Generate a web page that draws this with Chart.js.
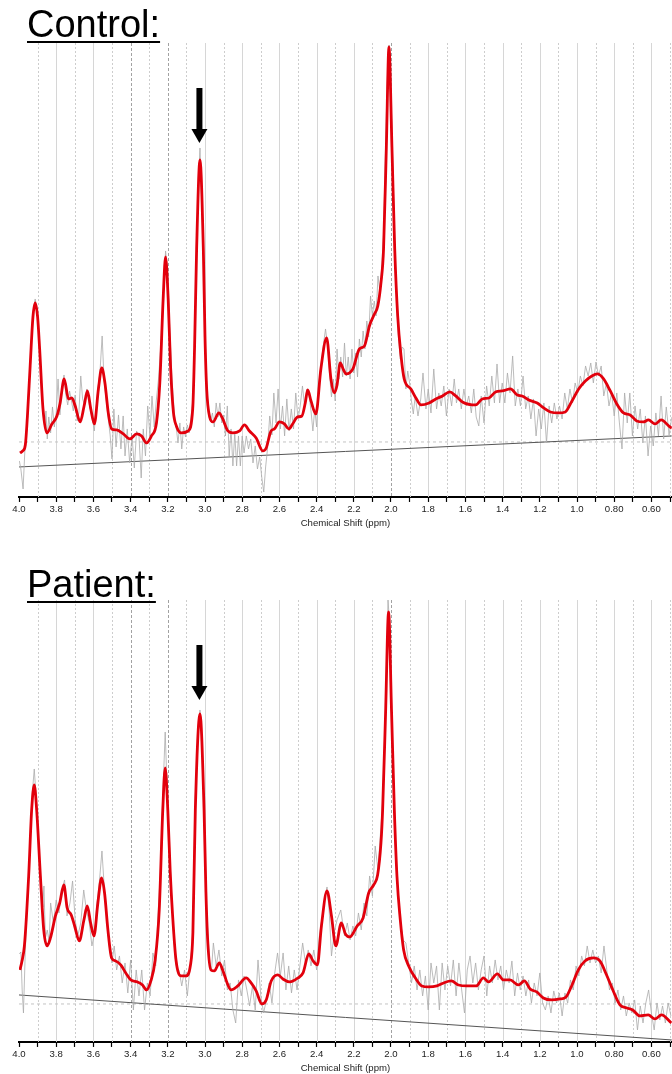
<!DOCTYPE html>
<html>
<head>
<meta charset="utf-8">
<script src="https://cdn.jsdelivr.net/npm/chart.js@4.4.0/dist/chart.umd.min.js"></script>
<style>
  html, body { margin: 0; padding: 0; background: #fff; overflow: hidden; }
  body { width: 672px; height: 1074px; position: relative; font-family: "Liberation Sans", Arial, sans-serif; }
  canvas { position: absolute; left: 0; }
  .panel-title { position: absolute; left: 27px; font-size: 38px; line-height: 38px; color: #000;
    text-decoration: underline; text-decoration-thickness: 2px; text-underline-offset: 4px; z-index: 2; }
</style>
</head>
<body>
<canvas id="control" width="672" height="529" style="top:0"></canvas>
<canvas id="patient" width="672" height="517" style="top:557px"></canvas>
<div class="panel-title" style="top:5px">Control:</div>
<div class="panel-title" style="top:565px">Patient:</div>
<script>
// x axis ticks (ppm), labels only on the 0.2 steps
const tickVals = [4.0, 3.9, 3.8, 3.7, 3.6, 3.5, 3.4, 3.3, 3.2, 3.1, 3.0, 2.9, 2.8, 2.7, 2.6, 2.5, 2.4, 2.3,
  2.2, 2.1, 2.0, 1.9, 1.8, 1.7, 1.6, 1.5, 1.4, 1.3, 1.2, 1.1, 1.0, 0.9, 0.8, 0.7, 0.6, 0.5];
const tickText = ['4.0', '', '3.8', '', '3.6', '', '3.4', '', '3.2', '', '3.0', '', '2.8', '', '2.6', '', '2.4', '',
  '2.2', '', '2.0', '', '1.8', '', '1.6', '', '1.4', '', '1.2', '', '1.0', '', '0.80', '', '0.60', ''];
const markerPpm = [3.4, 3.2, 2.0];   // darker dashed guide lines
const arrowPpm = 3.03;
const edgePpm = [4.0, 0.49];

// Control: fitted spectrum (red)
const ctlFitPpm = [
  3.995, 3.98, 3.966, 3.955, 3.94, 3.925, 3.913, 3.9, 3.889, 3.871,
  3.85, 3.823, 3.796, 3.779, 3.757, 3.734, 3.716, 3.698, 3.671, 3.65,
  3.632, 3.614, 3.595, 3.573, 3.555, 3.538, 3.52, 3.502, 3.475, 3.439,
  3.404, 3.368, 3.341, 3.314, 3.288, 3.261, 3.243, 3.225, 3.212, 3.198,
  3.185, 3.17, 3.154, 3.127, 3.091, 3.066, 3.056, 3.045, 3.027, 3.009,
  3.0, 2.991, 2.975, 2.957, 2.925, 2.907, 2.877, 2.85, 2.814, 2.788,
  2.761, 2.725, 2.689, 2.671, 2.645, 2.627, 2.6, 2.573, 2.55, 2.529,
  2.502, 2.479, 2.461, 2.448, 2.43, 2.404, 2.377, 2.346, 2.323, 2.305,
  2.29, 2.273, 2.255, 2.241, 2.205, 2.17, 2.143, 2.116, 2.089, 2.071,
  2.054, 2.04, 2.025, 2.011, 1.995, 1.98, 1.964, 1.946, 1.929, 1.893,
  1.866, 1.839, 1.795, 1.759, 1.723, 1.684, 1.652, 1.616, 1.545, 1.509,
  1.473, 1.438, 1.402, 1.357, 1.321, 1.295, 1.259, 1.214, 1.179, 1.143,
  1.098, 1.063, 1.027, 0.991, 0.955, 0.92, 0.89, 0.857, 0.821, 0.786,
  0.75, 0.714, 0.679, 0.643, 0.616, 0.58, 0.548, 0.5, 0.49];
const ctlFitVal = [
  44, 46, 52, 80, 131, 180, 194, 180, 148, 88,
  64, 73, 81, 94, 118, 98, 99, 91, 75, 91,
  106, 88, 73, 108, 129, 114, 84, 68, 67, 63,
  58, 63, 61, 54, 61, 74, 114, 198, 240, 198,
  130, 85, 71, 64, 66, 88, 150, 248, 337, 248,
  160, 108, 80, 75, 84, 79, 66, 64, 66, 72,
  66, 59, 46, 49, 66, 68, 75, 73, 68, 73,
  80, 81, 94, 107, 96, 83, 128, 159, 118, 104,
  112, 134, 127, 123, 128, 148, 151, 171, 183, 191,
  214, 248, 350, 450, 350, 248, 181, 141, 118, 108,
  99, 92, 94, 98, 101, 105, 101, 95, 92, 98,
  99, 105, 106, 108, 102, 101, 97, 94, 89, 85,
  84, 85, 96, 108, 116, 121, 123, 118, 106, 93,
  84, 82, 76, 75, 77, 73, 77, 70, 69];

// Control: raw signal (grey)
const ctlRawPpm = [
  3.998, 3.99, 3.978, 3.968, 3.955, 3.94, 3.925, 3.913, 3.9, 3.889,
  3.875, 3.862, 3.855, 3.848, 3.84, 3.83, 3.82, 3.81, 3.8, 3.79,
  3.78, 3.77, 3.758, 3.748, 3.738, 3.728, 3.718, 3.708, 3.698, 3.688,
  3.678, 3.668, 3.658, 3.648, 3.636, 3.626, 3.615, 3.605, 3.595, 3.585,
  3.575, 3.565, 3.553, 3.543, 3.532, 3.52, 3.51, 3.5, 3.49, 3.478,
  3.465, 3.452, 3.44, 3.43, 3.418, 3.405, 3.392, 3.38, 3.368, 3.355,
  3.343, 3.332, 3.32, 3.308, 3.296, 3.285, 3.273, 3.262, 3.25, 3.238,
  3.225, 3.212, 3.2, 3.19, 3.178, 3.165, 3.155, 3.145, 3.135, 3.125,
  3.115, 3.105, 3.095, 3.085, 3.075, 3.066, 3.056, 3.045, 3.036, 3.027,
  3.017, 3.009, 3.0, 2.99, 2.98, 2.97, 2.96, 2.95, 2.94, 2.93,
  2.92, 2.91, 2.9, 2.89, 2.88, 2.87, 2.86, 2.85, 2.84, 2.83,
  2.82, 2.81, 2.8, 2.79, 2.778, 2.766, 2.754, 2.742, 2.73, 2.718,
  2.706, 2.695, 2.684, 2.674, 2.664, 2.652, 2.64, 2.63, 2.618, 2.607,
  2.595, 2.583, 2.572, 2.56, 2.548, 2.536, 2.524, 2.512, 2.5, 2.488,
  2.476, 2.464, 2.452, 2.44, 2.43, 2.42, 2.41, 2.4, 2.39, 2.378,
  2.365, 2.352, 2.34, 2.33, 2.32, 2.31, 2.3, 2.29, 2.28, 2.27,
  2.26, 2.25, 2.24, 2.23, 2.22, 2.21, 2.2, 2.19, 2.18, 2.17,
  2.16, 2.15, 2.14, 2.13, 2.12, 2.11, 2.1, 2.09, 2.08, 2.07,
  2.06, 2.05, 2.04, 2.028, 2.016, 2.01, 2.002, 1.99, 1.98, 1.97,
  1.96, 1.95, 1.94, 1.93, 1.92, 1.91, 1.9, 1.89, 1.88, 1.87,
  1.855, 1.84, 1.828, 1.812, 1.8, 1.785, 1.77, 1.755, 1.743, 1.73,
  1.716, 1.702, 1.688, 1.674, 1.66, 1.648, 1.636, 1.622, 1.608, 1.595,
  1.582, 1.568, 1.555, 1.542, 1.528, 1.515, 1.5, 1.486, 1.472, 1.458,
  1.444, 1.43, 1.416, 1.402, 1.388, 1.374, 1.36, 1.346, 1.332, 1.318,
  1.304, 1.29, 1.276, 1.262, 1.248, 1.234, 1.22, 1.206, 1.192, 1.178,
  1.164, 1.15, 1.136, 1.122, 1.108, 1.094, 1.08, 1.066, 1.052, 1.038,
  1.024, 1.01, 0.996, 0.982, 0.968, 0.954, 0.94, 0.926, 0.912, 0.898,
  0.884, 0.87, 0.856, 0.842, 0.828, 0.814, 0.8, 0.786, 0.772, 0.758,
  0.744, 0.73, 0.716, 0.702, 0.688, 0.674, 0.66, 0.646, 0.632, 0.618,
  0.604, 0.59, 0.576, 0.562, 0.548, 0.534, 0.52, 0.505, 0.49];
const ctlRawVal = [
  36, 28, 8, 48, 82, 133, 184, 198, 182, 150,
  100, 70, 86, 58, 80, 64, 90, 70, 84, 118,
  82, 106, 122, 102, 92, 106, 96, 86, 102, 76,
  84, 121, 98, 92, 108, 96, 86, 78, 66, 90,
  110, 124, 161, 118, 98, 78, 62, 38, 88, 50,
  82, 48, 81, 41, 68, 34, 61, 29, 66, 61,
  19, 68, 41, 91, 61, 101, 70, 96, 118, 150,
  200, 246, 222, 170, 120, 84, 70, 54, 74, 48,
  70, 60, 72, 64, 80, 96, 150, 250, 310, 349,
  290, 250, 165, 110, 84, 76, 84, 70, 94, 80,
  94, 74, 82, 61, 91, 41, 68, 31, 64, 31,
  61, 31, 61, 44, 61, 48, 58, 34, 51, 28,
  40, 20, 5, 30, 48, 81, 62, 104, 74, 108,
  68, 91, 61, 98, 66, 88, 68, 104, 78, 91,
  111, 90, 108, 101, 86, 66, 88, 70, 110, 130,
  150, 168, 150, 122, 100, 118, 96, 148, 118, 140,
  120, 154, 121, 140, 118, 148, 124, 144, 120, 158,
  140, 166, 148, 176, 160, 201, 181, 196, 181, 221,
  206, 230, 262, 360, 440, 452, 420, 330, 252, 200,
  160, 138, 150, 148, 108, 126, 114, 96, 83, 101,
  81, 98, 124, 88, 108, 84, 128, 88, 104, 91,
  111, 81, 108, 91, 118, 94, 108, 88, 108, 91,
  101, 84, 108, 80, 71, 101, 74, 111, 91, 121,
  94, 133, 94, 114, 94, 124, 104, 141, 91, 108,
  91, 121, 88, 101, 78, 98, 61, 88, 68, 94,
  54, 91, 74, 94, 78, 91, 78, 104, 88, 108,
  94, 114, 104, 121, 111, 131, 121, 134, 114, 135,
  121, 131, 101, 114, 91, 104, 81, 104, 74, 48,
  104, 74, 104, 61, 91, 68, 88, 54, 81, 41,
  71, 51, 84, 61, 101, 58, 90, 62, 80];
const ctlBaseVal = [30, 61];
const ctlZeroVal = [55, 55];

// Patient: fitted spectrum (red)
const ptFitPpm = [
  3.995, 3.985, 3.971, 3.948, 3.932, 3.918, 3.905, 3.885, 3.867, 3.849,
  3.831, 3.804, 3.781, 3.759, 3.741, 3.719, 3.701, 3.676, 3.651, 3.633,
  3.615, 3.597, 3.576, 3.556, 3.54, 3.522, 3.502, 3.48, 3.453, 3.426,
  3.399, 3.363, 3.336, 3.315, 3.291, 3.268, 3.246, 3.227, 3.214, 3.2,
  3.187, 3.174, 3.156, 3.129, 3.103, 3.079, 3.065, 3.052, 3.027, 3.005,
  2.995, 2.985, 2.968, 2.95, 2.923, 2.905, 2.881, 2.86, 2.824, 2.779,
  2.752, 2.725, 2.694, 2.671, 2.644, 2.608, 2.581, 2.545, 2.5, 2.473,
  2.442, 2.419, 2.396, 2.374, 2.344, 2.32, 2.297, 2.267, 2.245, 2.222,
  2.182, 2.15, 2.12, 2.093, 2.072, 2.054, 2.045, 2.029, 2.013, 1.997,
  1.982, 1.968, 1.95, 1.932, 1.905, 1.869, 1.834, 1.798, 1.753, 1.717,
  1.676, 1.637, 1.592, 1.542, 1.503, 1.476, 1.428, 1.395, 1.36, 1.315,
  1.283, 1.252, 1.216, 1.181, 1.136, 1.091, 1.059, 1.029, 0.993, 0.957,
  0.912, 0.877, 0.841, 0.805, 0.769, 0.733, 0.701, 0.662, 0.617, 0.581,
  0.546, 0.492];
const ptFitVal = [
  72, 80, 96, 166, 232, 257, 232, 166, 112, 96,
  104, 126, 139, 157, 134, 127, 116, 101, 122, 136,
  119, 106, 139, 164, 149, 112, 84, 81, 77, 69,
  62, 60, 57, 52, 61, 82, 132, 232, 274, 232,
  170, 126, 82, 66, 66, 76, 110, 232, 328, 232,
  150, 100, 72, 71, 79, 72, 59, 52, 56, 64,
  59, 51, 38, 42, 61, 67, 63, 60, 64, 69,
  88, 81, 77, 116, 151, 126, 96, 119, 108, 105,
  116, 124, 149, 157, 167, 199, 232, 330, 430, 330,
  232, 166, 122, 92, 76, 64, 56, 55, 56, 59,
  61, 57, 56, 56, 64, 60, 68, 62, 62, 57,
  61, 53, 50, 44, 42, 43, 45, 56, 72, 81,
  84, 81, 67, 51, 37, 34, 32, 26, 27, 23,
  27, 19];

// Patient: raw signal (grey)
const ptRawPpm = [
  3.998, 3.99, 3.983, 3.976, 3.966, 3.955, 3.94, 3.928, 3.918, 3.906,
  3.895, 3.882, 3.872, 3.866, 3.858, 3.848, 3.838, 3.83, 3.815, 3.8,
  3.785, 3.77, 3.755, 3.742, 3.726, 3.712, 3.698, 3.684, 3.668, 3.652,
  3.638, 3.622, 3.608, 3.594, 3.58, 3.568, 3.554, 3.54, 3.525, 3.512,
  3.5, 3.488, 3.475, 3.46, 3.445, 3.43, 3.415, 3.4, 3.385, 3.37,
  3.355, 3.34, 3.325, 3.31, 3.295, 3.28, 3.265, 3.252, 3.24, 3.228,
  3.214, 3.203, 3.192, 3.18, 3.17, 3.16, 3.15, 3.14, 3.125, 3.11,
  3.095, 3.08, 3.065, 3.054, 3.04, 3.027, 3.014, 3.005, 2.995, 2.985,
  2.975, 2.965, 2.955, 2.94, 2.925, 2.91, 2.895, 2.88, 2.865, 2.85,
  2.835, 2.82, 2.805, 2.79, 2.775, 2.76, 2.745, 2.73, 2.715, 2.7,
  2.685, 2.67, 2.655, 2.64, 2.625, 2.61, 2.595, 2.58, 2.565, 2.55,
  2.535, 2.52, 2.505, 2.49, 2.475, 2.46, 2.445, 2.43, 2.415, 2.4,
  2.385, 2.37, 2.355, 2.344, 2.332, 2.32, 2.305, 2.29, 2.27, 2.25,
  2.235, 2.22, 2.205, 2.19, 2.175, 2.16, 2.145, 2.13, 2.115, 2.1,
  2.085, 2.07, 2.058, 2.045, 2.03, 2.016, 2.008, 1.996, 1.982, 1.97,
  1.958, 1.95, 1.935, 1.92, 1.905, 1.89, 1.875, 1.86, 1.845, 1.83,
  1.815, 1.8, 1.785, 1.77, 1.755, 1.74, 1.725, 1.71, 1.695, 1.68,
  1.665, 1.65, 1.635, 1.62, 1.605, 1.59, 1.575, 1.56, 1.545, 1.53,
  1.515, 1.5, 1.485, 1.47, 1.455, 1.44, 1.425, 1.41, 1.395, 1.38,
  1.365, 1.35, 1.335, 1.32, 1.305, 1.29, 1.275, 1.26, 1.245, 1.23,
  1.215, 1.2, 1.185, 1.17, 1.155, 1.14, 1.125, 1.11, 1.095, 1.08,
  1.065, 1.05, 1.035, 1.02, 1.005, 0.99, 0.975, 0.96, 0.945, 0.93,
  0.915, 0.9, 0.885, 0.87, 0.855, 0.84, 0.825, 0.81, 0.795, 0.78,
  0.765, 0.75, 0.735, 0.72, 0.705, 0.69, 0.675, 0.66, 0.645, 0.63,
  0.615, 0.6, 0.585, 0.57, 0.555, 0.54, 0.525, 0.51, 0.495];
const ptRawVal = [
  88, 90, 52, 29, 92, 140, 200, 250, 273, 240,
  200, 160, 135, 156, 104, 112, 100, 139, 119, 142,
  129, 152, 162, 126, 139, 161, 122, 106, 119, 152,
  132, 119, 96, 109, 140, 160, 191, 150, 116, 92,
  79, 96, 72, 86, 59, 79, 49, 82, 32, 72,
  46, 72, 32, 59, 46, 89, 76, 130, 170, 240,
  310, 250, 200, 150, 110, 84, 72, 72, 56, 72,
  46, 76, 110, 236, 300, 332, 290, 232, 150, 110,
  80, 72, 99, 76, 92, 66, 82, 52, 59, 32,
  19, 62, 46, 66, 52, 36, 56, 32, 82, 46,
  29, 42, 59, 39, 69, 89, 66, 89, 52, 76,
  49, 72, 52, 76, 99, 79, 92, 76, 92, 72,
  106, 125, 145, 155, 130, 86, 110, 122, 132, 106,
  119, 102, 116, 106, 129, 112, 139, 126, 166, 146,
  196, 172, 205, 240, 330, 442, 420, 330, 236, 170,
  140, 122, 102, 99, 79, 59, 76, 52, 72, 46,
  66, 32, 79, 59, 76, 32, 79, 52, 76, 56,
  82, 46, 79, 52, 29, 72, 86, 59, 79, 52,
  72, 86, 46, 76, 59, 82, 62, 76, 52, 72,
  59, 81, 46, 69, 52, 66, 46, 62, 39, 59,
  46, 69, 39, 32, 46, 29, 51, 39, 49, 26,
  49, 39, 62, 52, 76, 66, 86, 76, 96, 79,
  92, 79, 86, 69, 96, 72, 52, 59, 39, 52,
  32, 46, 26, 39, 29, 42, 12, 36, 19, 39,
  52, 29, 12, 39, 22, 36, 19, 39, 26];
const ptBaseVal = [47, 2];
const ptZeroVal = [38, 38];

Chart.defaults.font.family = '"Liberation Sans", Arial, sans-serif';

// grid lines and the arrow above the 3.03 ppm peak
const marks = {
  id: 'marks',
  beforeDatasetsDraw(chart) {
    const { ctx, chartArea: a, scales: { x } } = chart;
    ctx.save();
    ctx.lineWidth = 1;
    tickVals.forEach((v, i) => {
      if (i === 0) return;
      const px = Math.round(x.getPixelForValue(v)) + 0.5;
      const major = tickText[i] !== '';
      const guide = markerPpm.includes(v);
      ctx.strokeStyle = guide ? '#a2a2a2' : (major ? '#d6d6d6' : '#cdcdcd');
      ctx.setLineDash(guide ? [3, 2] : (major ? [] : [2, 2]));
      ctx.beginPath();
      ctx.moveTo(px, a.top);
      ctx.lineTo(px, a.bottom);
      ctx.stroke();
    });
    ctx.restore();
  },
  afterDatasetsDraw(chart, args, opts) {
    const { ctx, scales: { x, y } } = chart;
    const ax = x.getPixelForValue(arrowPpm);
    const tip = y.getPixelForValue(opts.tip);
    const top = y.getPixelForValue(opts.top);
    ctx.save();
    ctx.fillStyle = '#000';
    ctx.fillRect(ax - 3, top, 6, tip - top - 12);
    ctx.beginPath();
    ctx.moveTo(ax - 8, tip - 14);
    ctx.lineTo(ax + 8, tip - 14);
    ctx.lineTo(ax, tip);
    ctx.closePath();
    ctx.fill();
    ctx.restore();
  }
};

function pts(xs, ys) {
  return xs.map((x, i) => ({ x: x, y: ys[i] }));
}

function spectrum(id, fitPpm, fitVal, rawPpm, rawVal, baseVal, zeroVal, yMax, arrow) {
  return new Chart(document.getElementById(id), {
    type: 'line',
    data: {
      datasets: [
        { data: pts(fitPpm, fitVal), borderColor: '#e2000c', borderWidth: 2.8, cubicInterpolationMode: 'monotone', order: 0 },
        { data: pts(rawPpm, rawVal), borderColor: '#ababab', borderWidth: 0.8, order: 1 },
        { data: pts(edgePpm, baseVal), borderColor: '#555', borderWidth: 1, order: 2 },
        { data: pts(edgePpm, zeroVal), borderColor: '#c4c4c4', borderWidth: 1, borderDash: [3, 3], order: 3 }
      ]
    },
    options: {
      responsive: false,
      animation: false,
      devicePixelRatio: 1,
      events: [],
      layout: { padding: { left: 19, top: 43, right: 0, bottom: 0 } },
      elements: { point: { radius: 0 }, line: { tension: 0, fill: false } },
      plugins: {
        legend: { display: false },
        tooltip: { enabled: false },
        marks: arrow
      },
      scales: {
        x: {
          type: 'linear',
          reverse: true,
          min: 0.49,
          max: 4.0,
          afterBuildTicks: axis => { axis.ticks = tickVals.map(v => ({ value: v })); },
          ticks: {
            autoSkip: false,
            maxRotation: 0,
            padding: 2,
            color: '#222',
            font: { size: 9.6 },
            callback: (v, i) => tickText[i]
          },
          grid: { drawOnChartArea: false, drawTicks: true, tickLength: 5, tickColor: '#000', tickWidth: 1.2 },
          border: { display: true, color: '#000', width: 2 },
          title: { display: true, text: 'Chemical Shift (ppm)', color: '#222', font: { size: 9.6 }, padding: 0 }
        },
        y: { display: false, min: 0, max: yMax }
      }
    },
    plugins: [marks]
  });
}

spectrum('control', ctlFitPpm, ctlFitVal, ctlRawPpm, ctlRawVal, ctlBaseVal, ctlZeroVal, 454, { tip: 354, top: 409 });
spectrum('patient', ptFitPpm, ptFitVal, ptRawPpm, ptRawVal, ptBaseVal, ptZeroVal, 442, { tip: 342, top: 397 });
</script>
</body>
</html>
